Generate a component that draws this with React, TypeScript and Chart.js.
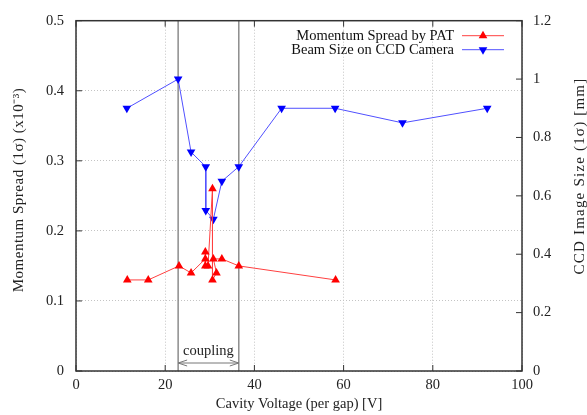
import React, { useEffect, useRef } from "react";
import { Chart, registerables } from "chart.js";
Chart.register(...registerables);

const patVoltage = [11.5, 16.2, 23.1, 25.8, 29.0, 29.0, 29.0, 29.6, 30.6, 30.6, 31.5, 30.8, 32.7, 36.5, 58.2];
const patSpread = [0.13, 0.13, 0.15, 0.14, 0.16, 0.17, 0.15, 0.15, 0.26, 0.13, 0.14, 0.16, 0.16, 0.15, 0.13];
const ccdVoltage = [11.4, 22.9, 25.8, 29.1, 29.1, 30.8, 32.7, 36.5, 46.1, 58.1, 73.2, 92.2];
const ccdSize = [0.9, 1.0, 0.75, 0.7, 0.55, 0.52, 0.65, 0.7, 0.9, 0.9, 0.85, 0.9];
const couplingBounds = [22.9, 36.5];
const seriesNames = ["Momentum Spread by PAT", "Beam Size on CCD Camera"];
const seriesColors = ["#ff0000", "#0000ff"];
const lineColors = ["#ff4040", "#5050ff"];

const FONT = "'Liberation Serif', 'Times New Roman', serif";
const FS = 14.5;
const fmt = (v: number) => String(Number(Number(v).toFixed(2)));

function tri(ctx: CanvasRenderingContext2D, x: number, y: number, r: number, down: boolean) {
  const h = r * 1.5;
  const w = r * Math.sqrt(3) / 2;
  ctx.beginPath();
  if (down) {
    ctx.moveTo(x - w, y - h / 3);
    ctx.lineTo(x + w, y - h / 3);
    ctx.lineTo(x, y + (2 * h) / 3);
  } else {
    ctx.moveTo(x - w, y + h / 3);
    ctx.lineTo(x + w, y + h / 3);
    ctx.lineTo(x, y - (2 * h) / 3);
  }
  ctx.closePath();
  ctx.fill();
}

const decorPlugin = {
  id: "decor",
  beforeDatasetsDraw(chart: any) {
    const { ctx, chartArea: a, scales } = chart;
    const x = scales.x;
    ctx.save();
    ctx.strokeStyle = "#8c8c8c";
    ctx.lineWidth = 1.5;
    const px = couplingBounds.map((v) => x.getPixelForValue(v));
    px.forEach((p) => {
      ctx.beginPath();
      ctx.moveTo(p, a.top);
      ctx.lineTo(p, a.bottom);
      ctx.stroke();
    });
    const ay = a.bottom - 8;
    ctx.lineWidth = 1;
    ctx.strokeStyle = "#777";
    ctx.beginPath();
    ctx.moveTo(px[0], ay);
    ctx.lineTo(px[1], ay);
    ctx.moveTo(px[0] + 9, ay - 3);
    ctx.lineTo(px[0], ay);
    ctx.lineTo(px[0] + 9, ay + 3);
    ctx.moveTo(px[1] - 9, ay - 3);
    ctx.lineTo(px[1], ay);
    ctx.lineTo(px[1] - 9, ay + 3);
    ctx.stroke();
    ctx.fillStyle = "#222";
    ctx.font = `${FS}px ${FONT}`;
    ctx.textAlign = "center";
    ctx.textBaseline = "middle";
    ctx.fillText("coupling", (px[0] + px[1]) / 2, ay - 12);
    ctx.restore();
  },
  afterDraw(chart: any) {
    const { ctx, chartArea: a, scales } = chart;
    ctx.save();
    ctx.strokeStyle = "#333";
    ctx.lineWidth = 1.5;
    ctx.strokeRect(a.left, a.top, a.right - a.left, a.bottom - a.top);
    ctx.lineWidth = 1;
    const tl = 6;
    ctx.beginPath();
    scales.x.ticks.forEach((t: any) => {
      const p = scales.x.getPixelForValue(t.value);
      ctx.moveTo(p, a.bottom);
      ctx.lineTo(p, a.bottom - tl);
      ctx.moveTo(p, a.top);
      ctx.lineTo(p, a.top + tl);
    });
    scales.y.ticks.forEach((t: any) => {
      const p = scales.y.getPixelForValue(t.value);
      ctx.moveTo(a.left, p);
      ctx.lineTo(a.left + tl, p);
    });
    scales.y1.ticks.forEach((t: any) => {
      const p = scales.y1.getPixelForValue(t.value);
      ctx.moveTo(a.right, p);
      ctx.lineTo(a.right - tl, p);
    });
    ctx.stroke();
    // legend
    ctx.font = `${FS}px ${FONT}`;
    ctx.textAlign = "right";
    ctx.textBaseline = "middle";
    const rows = [a.top + 15, a.top + 29];
    seriesNames.forEach((name, i) => {
      const yy = rows[i];
      ctx.fillStyle = "#111";
      ctx.fillText(name, a.right - 68, yy);
      ctx.strokeStyle = lineColors[i];
      ctx.lineWidth = 1;
      ctx.beginPath();
      ctx.moveTo(a.right - 60, yy);
      ctx.lineTo(a.right - 18, yy);
      ctx.stroke();
      ctx.fillStyle = seriesColors[i];
      tri(ctx, a.right - 39, yy, 5, i === 1);
    });
    // right axis title
    ctx.save();
    ctx.translate(580, 176);
    ctx.rotate(-Math.PI / 2);
    ctx.textAlign = "center";
    ctx.textBaseline = "middle";
    ctx.fillStyle = "#222";
    ctx.font = `15px ${FONT}`;
    (ctx as any).letterSpacing = "1.2px";
    ctx.fillText("CCD Image Size (1σ) [mm]", 0, 0);
    ctx.restore();
    // left axis title
    ctx.save();
    ctx.translate(19, 190);
    ctx.rotate(-Math.PI / 2);
    ctx.textAlign = "center";
    ctx.textBaseline = "middle";
    ctx.fillStyle = "#222";
    ctx.font = `15px ${FONT}`;
    (ctx as any).letterSpacing = "0.5px";
    ctx.fillText("Momentum Spread (1σ) (x10⁻³)", 0, 0);
    ctx.restore();
    ctx.restore();
  },
};

export default function App() {
  const ref = useRef<HTMLCanvasElement>(null);
  useEffect(() => {
    if (!ref.current) return;
    const grid = {
      color: "#c4c4c4",
      lineWidth: 1,
      drawTicks: false,
    };
    const border = { display: false, dash: [1, 2] };
    const tickFont = { family: FONT, size: FS };
    const chart = new Chart(ref.current, {
      type: "scatter",
      data: {
        datasets: [
          {
            label: seriesNames[0],
            data: patVoltage.map((v, i) => ({ x: v, y: patSpread[i] })),
            showLine: true,
            borderColor: lineColors[0],
            backgroundColor: seriesColors[0],
            borderWidth: 1,
            pointStyle: "triangle",
            pointRadius: 5,
            pointBorderWidth: 0,
            yAxisID: "y",
          },
          {
            label: seriesNames[1],
            data: ccdVoltage.map((v, i) => ({ x: v, y: ccdSize[i] })),
            showLine: true,
            borderColor: lineColors[1],
            backgroundColor: seriesColors[1],
            borderWidth: 1,
            pointStyle: "triangle",
            pointRotation: 180,
            pointRadius: 5,
            pointBorderWidth: 0,
            yAxisID: "y1",
          },
        ],
      },
      options: {
        responsive: false,
        animation: false,
        layout: { padding: { top: 16, left: 0, right: 0, bottom: 0 } },
        plugins: { legend: { display: false }, tooltip: { enabled: false } },
        scales: {
          x: {
            type: "linear",
            min: 0,
            max: 100,
            ticks: { stepSize: 20, font: tickFont, color: "#222", padding: 5, callback: (v: any) => fmt(v), maxRotation: 0 },
            grid: grid,
            border: border,
            title: { display: true, text: "Cavity Voltage (per gap) [V]", font: tickFont, color: "#222", padding: { top: 2, bottom: 2 } },
            afterFit: (s: any) => { s.height = 44; },
          },
          y: {
            type: "linear",
            position: "left",
            min: 0,
            max: 0.5,
            ticks: { stepSize: 0.1, font: tickFont, color: "#222", padding: 12, callback: (v: any) => fmt(v) },
            grid: grid,
            border: border,
            afterFit: (s: any) => { s.width = 76; },
          },
          y1: {
            type: "linear",
            position: "right",
            min: 0,
            max: 1.2,
            ticks: { stepSize: 0.2, font: tickFont, color: "#222", padding: 11, callback: (v: any) => fmt(v) },
            grid: { drawOnChartArea: false, drawTicks: false },
            border: { display: false },
            afterFit: (s: any) => { s.width = 65; },
          },
        },
      },
      plugins: [decorPlugin],
    } as any);
    return () => chart.destroy();
  }, []);
  return (
    <canvas
      ref={ref}
      width={587}
      height={415}
      style={{ position: "fixed", left: 0, top: 0, display: "block", background: "#fff" }}
    />
  );
}
